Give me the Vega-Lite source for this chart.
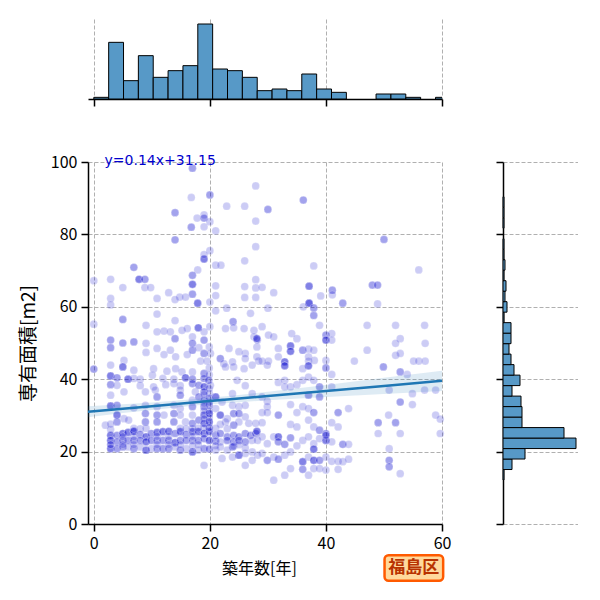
{
  "$schema": "https://vega.github.io/schema/vega-lite/v6.json",
  "description": "Jointplot: building age vs floor area, Fukushima ward.",
  "padding": {"left": 19, "top": 19, "right": 0, "bottom": 0},
  "bounds": "flush",
  "spacing": 63,
  "datasets": {
    "histx": [
      {"b0": 0, "b1": 2.56, "n": 1},
      {"b0": 2.56, "b1": 5.12, "n": 34},
      {"b0": 5.12, "b1": 7.68, "n": 11},
      {"b0": 7.68, "b1": 10.24, "n": 26},
      {"b0": 10.24, "b1": 12.8, "n": 13},
      {"b0": 12.8, "b1": 15.36, "n": 17},
      {"b0": 15.36, "b1": 17.92, "n": 20},
      {"b0": 17.92, "b1": 20.48, "n": 45},
      {"b0": 20.48, "b1": 23.04, "n": 18},
      {"b0": 23.04, "b1": 25.6, "n": 17},
      {"b0": 25.6, "b1": 28.16, "n": 13},
      {"b0": 28.16, "b1": 30.72, "n": 5},
      {"b0": 30.72, "b1": 33.28, "n": 6},
      {"b0": 33.28, "b1": 35.84, "n": 5},
      {"b0": 35.84, "b1": 38.4, "n": 15},
      {"b0": 38.4, "b1": 40.96, "n": 6},
      {"b0": 40.96, "b1": 43.52, "n": 4},
      {"b0": 48.64, "b1": 51.2, "n": 3},
      {"b0": 51.2, "b1": 53.76, "n": 3},
      {"b0": 53.76, "b1": 56.32, "n": 1},
      {"b0": 58.88, "b1": 61.44, "n": 1}
    ],
    "histy": [
      {"b0": 12.15, "b1": 15.05, "n": 1},
      {"b0": 15.05, "b1": 17.95, "n": 9},
      {"b0": 17.95, "b1": 20.84, "n": 22},
      {"b0": 20.84, "b1": 23.74, "n": 73},
      {"b0": 23.74, "b1": 26.64, "n": 61},
      {"b0": 26.64, "b1": 29.54, "n": 19},
      {"b0": 29.54, "b1": 32.44, "n": 19},
      {"b0": 32.44, "b1": 35.33, "n": 18},
      {"b0": 35.33, "b1": 38.23, "n": 9},
      {"b0": 38.23, "b1": 41.13, "n": 17},
      {"b0": 41.13, "b1": 44.03, "n": 11},
      {"b0": 44.03, "b1": 46.93, "n": 8},
      {"b0": 46.93, "b1": 49.82, "n": 6},
      {"b0": 49.82, "b1": 52.72, "n": 8},
      {"b0": 52.72, "b1": 55.62, "n": 8},
      {"b0": 55.62, "b1": 58.52, "n": 1},
      {"b0": 58.52, "b1": 61.42, "n": 4},
      {"b0": 61.42, "b1": 64.31, "n": 2},
      {"b0": 64.31, "b1": 67.21, "n": 3},
      {"b0": 67.21, "b1": 70.11, "n": 1},
      {"b0": 70.11, "b1": 73.01, "n": 2},
      {"b0": 73.01, "b1": 75.9, "n": 1},
      {"b0": 75.9, "b1": 78.8, "n": 1},
      {"b0": 81.7, "b1": 84.6, "n": 1},
      {"b0": 84.6, "b1": 87.49, "n": 1},
      {"b0": 87.49, "b1": 90.39, "n": 1}
    ],
    "fit": [
      {"x": -1, "y": 31.01, "lo": 29.51, "hi": 32.51},
      {"x": 5, "y": 31.85, "lo": 30.63, "hi": 33.07},
      {"x": 10, "y": 32.55, "lo": 31.52, "hi": 33.58},
      {"x": 18, "y": 33.67, "lo": 32.77, "hi": 34.57},
      {"x": 25, "y": 34.65, "lo": 33.64, "hi": 35.66},
      {"x": 30, "y": 35.35, "lo": 34.17, "hi": 36.53},
      {"x": 40, "y": 36.75, "lo": 35.09, "hi": 38.41},
      {"x": 50, "y": 38.15, "lo": 35.93, "hi": 40.37},
      {"x": 60, "y": 39.55, "lo": 36.75, "hi": 42.35}
    ],
    "eq": [{"t": "y=0.14x+31.15", "x": 1.85, "y": 99.2}],
    "ward": [{"t": "福島区", "x": 55.15, "y": -12.2, "x1": 50.1, "x2": 60.2, "y1": -8.6, "y2": -15.7}],
    "pts": [
      {"x":17,"y":98.3},{"x":17,"y":98.3},{"x":20,"y":90.9},{"x":20,"y":90.9},{"x":14,"y":86},{"x":14,"y":86},
      {"x":16.8,"y":90.2},{"x":27.9,"y":93.4},{"x":22.9,"y":87.8},{"x":26,"y":87.8},{"x":27.9,"y":83.7},
      {"x":19,"y":85.4},{"x":19,"y":84.5},{"x":19,"y":84.5},{"x":17.8,"y":84.5},{"x":16.8,"y":82},{"x":16.8,"y":82},
      {"x":19,"y":82.1},{"x":20,"y":83.5},{"x":21,"y":81},{"x":14,"y":78.5},{"x":14,"y":78.5},{"x":20,"y":75.5},
      {"x":19,"y":73.2},{"x":19,"y":73.2},{"x":19,"y":73.2},{"x":19,"y":74.4},{"x":6.9,"y":70.9},{"x":6.9,"y":70.9},
      {"x":17.9,"y":70.2},{"x":17,"y":68.7},{"x":17,"y":68.7},{"x":17,"y":66.2},{"x":17,"y":66.2},{"x":17,"y":66.2},
      {"x":17,"y":63.5},{"x":17,"y":63.5},{"x":21,"y":71.5},{"x":21.9,"y":71.5},{"x":26,"y":72.7},{"x":27.9,"y":76.6},
      {"x":0,"y":67.2},{"x":2.9,"y":67.6},{"x":7.8,"y":67.6},{"x":7.8,"y":67.6},{"x":7.8,"y":67.6},{"x":8.8,"y":67.6},
      {"x":8.8,"y":67.6},{"x":5,"y":65.3},{"x":8.8,"y":65.3},{"x":9.8,"y":65.3},{"x":12.9,"y":63.9},{"x":10.9,"y":62.3},
      {"x":2.9,"y":62.3},{"x":2.9,"y":60.5},{"x":14.8,"y":62.7},{"x":15.8,"y":62.7},{"x":17.9,"y":61},{"x":17.9,"y":61},
      {"x":17.9,"y":61},{"x":14,"y":62},{"x":21,"y":65.8},{"x":21,"y":63.1},{"x":20,"y":61.3},{"x":22.9,"y":59.6},
      {"x":26,"y":65.6},{"x":26,"y":62.6},{"x":27.9,"y":67.5},{"x":27.9,"y":65.2},{"x":27.9,"y":62.6},{"x":10.9,"y":58},
      {"x":21,"y":58.9},{"x":27,"y":58.2},{"x":5,"y":56.5},{"x":5,"y":56.5},{"x":14,"y":56.2},{"x":0,"y":55.2},
      {"x":24,"y":55.9},{"x":24,"y":55.9},
      {"x":36.1,"y":89.5},{"x":36.1,"y":89.5},{"x":30,"y":86.9},{"x":30,"y":86.9},{"x":50,"y":78.6},{"x":50,"y":78.6},
      {"x":37.9,"y":71.3},{"x":56,"y":70.2},{"x":37.1,"y":65.7},{"x":37.1,"y":65.7},{"x":37.1,"y":65.7},
      {"x":41.1,"y":64.6},{"x":41.1,"y":64.6},{"x":41.1,"y":63.3},{"x":48,"y":66},{"x":48,"y":66},{"x":48.9,"y":66},
      {"x":48.9,"y":66},{"x":39.1,"y":63},{"x":31,"y":63.9},{"x":29,"y":65.4},{"x":37.1,"y":61},{"x":37.1,"y":61},
      {"x":37.1,"y":61},{"x":37.1,"y":61},{"x":37.9,"y":59.7},{"x":37.9,"y":59.7},{"x":37.9,"y":57.6},{"x":37.9,"y":57.6},
      {"x":36.1,"y":60},{"x":42.9,"y":61},{"x":42.9,"y":61},{"x":48.9,"y":60.8},{"x":30,"y":59.6},
      {"x":9,"y":54.9},{"x":10.9,"y":53.1},{"x":12.1,"y":53.3},{"x":13.2,"y":53.1},{"x":15.2,"y":53.5},{"x":16.1,"y":54},
      {"x":18,"y":54.2},{"x":18,"y":54.2},{"x":18,"y":54.2},{"x":19,"y":53.1},{"x":20,"y":54.5},{"x":22.7,"y":54},
      {"x":24.1,"y":54.2},{"x":25.9,"y":54},{"x":27.6,"y":53.5},
      {"x":2.9,"y":50.8},{"x":2.9,"y":50.8},{"x":5,"y":50},{"x":5,"y":50},{"x":6.9,"y":50.3},{"x":6.9,"y":50.3},
      {"x":9,"y":49.9},{"x":14,"y":51.2},{"x":14,"y":51.2},{"x":17,"y":51.7},{"x":17,"y":49.9},{"x":17,"y":49.9},
      {"x":19,"y":50.8},{"x":19,"y":50.8},{"x":19.9,"y":48.9},{"x":27.6,"y":51.7},{"x":28.2,"y":50.8},
      {"x":2.9,"y":48.7},{"x":2.9,"y":48.7},{"x":9,"y":47.4},{"x":10.9,"y":48.5},{"x":12.1,"y":46.8},{"x":13.2,"y":48},
      {"x":14.1,"y":46.2},{"x":16.1,"y":46.8},{"x":17,"y":48},{"x":17,"y":48},{"x":18.1,"y":48.7},{"x":19,"y":47.1},
      {"x":19,"y":47.1},{"x":20.1,"y":47.1},{"x":23.3,"y":48.5},{"x":25,"y":47.6},{"x":26.1,"y":47.1},
      {"x":5.2,"y":45.2},{"x":18.4,"y":45},{"x":19.5,"y":45},{"x":21.8,"y":45.7},{"x":21.8,"y":45.7},{"x":22.4,"y":44.3},
      {"x":23.9,"y":44.8},{"x":26.1,"y":45.7},{"x":28.4,"y":45},
      {"x":0,"y":42.8},{"x":0,"y":42.8},{"x":2.9,"y":43.9},{"x":5,"y":43.4},{"x":5,"y":43.4},{"x":5,"y":43.4},
      {"x":6.9,"y":42.5},{"x":10.3,"y":42.9},{"x":12.6,"y":42.2},{"x":14.1,"y":42.9},{"x":15.2,"y":42},{"x":17,"y":42},
      {"x":19,"y":41.6},{"x":19,"y":41.6},{"x":22.7,"y":43.4},{"x":24.1,"y":43.4},{"x":25.9,"y":42.9},{"x":27.3,"y":43.9},
      {"x":2.9,"y":40.9},{"x":2.9,"y":40.9},{"x":2.9,"y":40.9},{"x":4,"y":40.4},{"x":4,"y":40.4},{"x":5.9,"y":40},
      {"x":5.9,"y":40},{"x":5.9,"y":40},{"x":6.9,"y":40.2},{"x":8,"y":40},{"x":10.1,"y":41.1},{"x":11.9,"y":40.2},
      {"x":13.8,"y":40},{"x":15.8,"y":40.4},{"x":15.8,"y":40.4},{"x":15.8,"y":40.4},{"x":17,"y":40},{"x":17,"y":40},
      {"x":19,"y":40.2},{"x":19,"y":40.2},{"x":19.8,"y":39.7},{"x":19.8,"y":39.7},{"x":24.7,"y":39.7},
      {"x":2.9,"y":38.5},{"x":2.9,"y":38.5},{"x":4,"y":38.3},{"x":8,"y":38.2},{"x":10.3,"y":37.9},{"x":12.4,"y":38.5},
      {"x":13.8,"y":38.8},{"x":14.9,"y":38.2},{"x":17,"y":38.8},{"x":17,"y":38.8},{"x":18.1,"y":38.3},{"x":18.1,"y":38.3},
      {"x":19,"y":37.9},{"x":19,"y":37.9},{"x":19,"y":37.9},{"x":20.1,"y":38.3},{"x":26.1,"y":38.2},
      {"x":5.2,"y":36.5},{"x":8.9,"y":36.5},{"x":10.6,"y":37},{"x":14.9,"y":37},{"x":17.5,"y":36.5},{"x":19,"y":36.5},
      {"x":19,"y":36.5},{"x":23.9,"y":36},{"x":27.3,"y":36},
      {"x":2.9,"y":35.6},{"x":10.9,"y":35.1},{"x":10.9,"y":35.1},{"x":14.9,"y":35.6},{"x":14.9,"y":35.6},{"x":17,"y":34.2},
      {"x":18.1,"y":35.1},{"x":18.1,"y":35.1},{"x":19,"y":34.2},{"x":19,"y":34.2},{"x":19.9,"y":34.7},{"x":19.9,"y":34.7},
      {"x":21,"y":35.1},{"x":21,"y":35.1},{"x":21,"y":35.1},{"x":22.1,"y":33.7},
      {"x":2.9,"y":32.6},{"x":2.9,"y":32.6},{"x":2.9,"y":32.6},{"x":4,"y":32.8},{"x":4,"y":32.8},{"x":6.9,"y":32.1},
      {"x":8.9,"y":32.8},{"x":10.9,"y":32.4},{"x":13.8,"y":32.8},{"x":14.9,"y":31.9},{"x":17,"y":32.4},{"x":17,"y":32.4},
      {"x":19,"y":32.4},{"x":19,"y":32.4},{"x":19.9,"y":32.8},{"x":19.9,"y":32.8},{"x":21,"y":31.9},{"x":23.9,"y":32.8},
      {"x":25,"y":32.4},{"x":26.1,"y":32.8},
      {"x":4,"y":30.1},{"x":4,"y":30.1},{"x":4,"y":30.1},{"x":5.2,"y":29.1},{"x":8.9,"y":30.5},{"x":8.9,"y":30.5},
      {"x":10.9,"y":30.1},{"x":10.9,"y":30.1},{"x":12.1,"y":30.1},{"x":13.8,"y":30.5},{"x":13.8,"y":30.5},{"x":14.9,"y":30.1},
      {"x":17,"y":30.1},{"x":19,"y":30.1},{"x":19,"y":30.1},{"x":19,"y":30.1},{"x":19.9,"y":30.5},{"x":19.9,"y":30.5},
      {"x":19.9,"y":30.5},{"x":21.8,"y":30.1},{"x":21.8,"y":30.1},{"x":21.8,"y":30.1},{"x":23,"y":29.1},{"x":24.1,"y":30.5},
      {"x":24.1,"y":30.5},{"x":25,"y":30.5},{"x":25,"y":30.5},{"x":26.1,"y":29.6},
      {"x":2,"y":27.3},{"x":4,"y":28.2},{"x":4,"y":28.2},{"x":6,"y":28.7},{"x":8.9,"y":28.2},{"x":8.9,"y":28.2},
      {"x":10.9,"y":28.2},{"x":10.9,"y":28.2},{"x":13.8,"y":28.2},{"x":13.8,"y":28.2},{"x":15.8,"y":28.2},{"x":17,"y":27.8},
      {"x":17,"y":27.8},{"x":18.1,"y":28.7},{"x":18.1,"y":28.7},{"x":19,"y":27.8},{"x":19,"y":27.8},{"x":19,"y":27.8},
      {"x":19.9,"y":28.2},{"x":19.9,"y":28.2},{"x":19.9,"y":28.2},{"x":22.7,"y":28.2},{"x":24.1,"y":27.3},{"x":24.1,"y":27.3},
      {"x":25,"y":28.2},{"x":26.7,"y":27.8},{"x":27.9,"y":27.8},
      {"x":2.9,"y":24.5},{"x":2.9,"y":24.5},{"x":2.9,"y":24.5},{"x":4,"y":24.5},{"x":4,"y":24.5},{"x":5,"y":25},
      {"x":5,"y":25},{"x":5,"y":25},{"x":5.9,"y":25.3},{"x":5.9,"y":25.3},{"x":5.9,"y":25.3},{"x":6.9,"y":25.6},
      {"x":6.9,"y":25.6},{"x":6.9,"y":25.6},{"x":6.9,"y":25.6},{"x":8,"y":24.7},{"x":8,"y":24.7},{"x":9,"y":24.1},
      {"x":9,"y":24.1},{"x":9,"y":24.1},{"x":9.9,"y":25},{"x":9.9,"y":25},{"x":10.9,"y":25.3},{"x":10.9,"y":25.3},
      {"x":10.9,"y":25.3},{"x":11.9,"y":25.5},{"x":11.9,"y":25.5},{"x":11.9,"y":25.5},{"x":12.9,"y":25.6},{"x":12.9,"y":25.6},
      {"x":12.9,"y":25.6},{"x":14,"y":25},{"x":14,"y":25},{"x":14.9,"y":25.5},{"x":14.9,"y":25.5},{"x":14.9,"y":25.5},
      {"x":15.9,"y":24.7},{"x":15.9,"y":24.7},{"x":17,"y":25.5},{"x":17,"y":25.5},{"x":17,"y":25.5},{"x":18,"y":25.5},
      {"x":18,"y":25.5},{"x":18,"y":25.5},{"x":19,"y":25},{"x":19,"y":25},{"x":19,"y":25},{"x":19.9,"y":25.5},
      {"x":19.9,"y":25.5},{"x":19.9,"y":25.5},{"x":21,"y":24.5},{"x":21,"y":24.5},{"x":21.8,"y":25},{"x":21.8,"y":25},
      {"x":23,"y":24.1},{"x":23,"y":24.1},{"x":24.1,"y":24.5},{"x":24.1,"y":24.5},{"x":25,"y":24.1},{"x":25,"y":24.1},
      {"x":26.1,"y":25},{"x":26.1,"y":25},{"x":27,"y":24.5},{"x":27,"y":24.5},{"x":27.9,"y":25},{"x":27.9,"y":25},
      {"x":2.9,"y":23.1},{"x":2.9,"y":23.1},{"x":2.9,"y":23.1},{"x":4,"y":22.7},{"x":4,"y":22.7},{"x":5,"y":23.1},
      {"x":5,"y":23.1},{"x":5.9,"y":23.1},{"x":5.9,"y":23.1},{"x":6.9,"y":23.1},{"x":6.9,"y":23.1},{"x":8,"y":23.1},
      {"x":8,"y":23.1},{"x":9,"y":22.7},{"x":9,"y":22.7},{"x":9,"y":22.7},{"x":9.9,"y":23.1},{"x":9.9,"y":23.1},
      {"x":10.9,"y":23.1},{"x":10.9,"y":23.1},{"x":11.9,"y":23.1},{"x":11.9,"y":23.1},{"x":12.9,"y":23.1},{"x":12.9,"y":23.1},
      {"x":14,"y":22.5},{"x":14,"y":22.5},{"x":14,"y":22.5},{"x":14.9,"y":23.1},{"x":14.9,"y":23.1},{"x":15.9,"y":23.1},
      {"x":15.9,"y":23.1},{"x":17,"y":23.1},{"x":17,"y":23.1},{"x":18,"y":23.1},{"x":18,"y":23.1},{"x":19,"y":23.6},
      {"x":19,"y":23.6},{"x":19.9,"y":23.1},{"x":19.9,"y":23.1},{"x":19.9,"y":23.1},{"x":21,"y":22.9},{"x":21,"y":22.9},
      {"x":21.8,"y":22.7},{"x":23,"y":23.1},{"x":23,"y":23.1},{"x":24.1,"y":22.7},{"x":24.1,"y":22.7},{"x":25,"y":23.1},
      {"x":25,"y":23.1},{"x":26.1,"y":22.7},{"x":26.1,"y":22.7},{"x":27.3,"y":23.1},{"x":28.2,"y":23.1},
      {"x":2.9,"y":20.8},{"x":2.9,"y":20.8},{"x":2.9,"y":20.8},{"x":4,"y":20.8},{"x":4,"y":20.8},{"x":5,"y":21.3},
      {"x":5,"y":21.3},{"x":5.9,"y":21.3},{"x":6.9,"y":20.8},{"x":6.9,"y":20.8},{"x":8,"y":21.3},{"x":9,"y":20.4},
      {"x":9,"y":20.4},{"x":9,"y":20.4},{"x":9.9,"y":20.8},{"x":10.9,"y":20.8},{"x":10.9,"y":20.8},{"x":11.9,"y":20.8},
      {"x":11.9,"y":20.8},{"x":12.9,"y":20.8},{"x":12.9,"y":20.8},{"x":14,"y":21.3},{"x":14.9,"y":20.4},{"x":14.9,"y":20.4},
      {"x":15.9,"y":20.8},{"x":17,"y":19.9},{"x":17,"y":19.9},{"x":17,"y":19.9},{"x":18,"y":20.4},{"x":19,"y":20.8},
      {"x":19,"y":20.8},{"x":19.9,"y":20.7},{"x":19.9,"y":20.7},{"x":21,"y":20.4},{"x":21.8,"y":21.3},{"x":23,"y":20.4},
      {"x":23.9,"y":21.3},{"x":23.9,"y":21.3},{"x":25,"y":19},{"x":25,"y":19},{"x":25,"y":19},{"x":26.1,"y":19.5},
      {"x":27.3,"y":19.9},{"x":28.2,"y":19},
      {"x":19,"y":16.2},{"x":22.1,"y":18.1},{"x":23.9,"y":18.5},{"x":26.1,"y":16.2},{"x":27.3,"y":17.6},
      {"x":19.9,"y":26.6},{"x":19.9,"y":26.6},{"x":19.9,"y":29.3},{"x":19.9,"y":31.2},{"x":19.9,"y":33.6},{"x":19.9,"y":36.1},
      {"x":19.9,"y":37.4},{"x":19.9,"y":41.2},{"x":19.9,"y":43.1},{"x":19,"y":26.5},{"x":19,"y":29},{"x":19,"y":31.3},
      {"x":19,"y":33.3},{"x":19,"y":35.8},{"x":2.9,"y":21.9},{"x":2.9,"y":21.9},{"x":2.9,"y":26.1},{"x":2.9,"y":27.6},
      {"x":5,"y":21.9},{"x":5,"y":24.1},{"x":6.9,"y":21.9},{"x":6.9,"y":24.1},{"x":6.9,"y":26.4},{"x":10.9,"y":21.9},
      {"x":10.9,"y":24.2},{"x":12.9,"y":21.9},{"x":12.9,"y":24.2},{"x":14.9,"y":21.9},{"x":14.9,"y":26.4},{"x":17,"y":21.6},
      {"x":17,"y":24.2},{"x":17,"y":26.4},{"x":8,"y":26.3},{"x":9,"y":26.4},{"x":21,"y":26.4},{"x":21.8,"y":27.5},
      {"x":23,"y":26.3},{"x":24.1,"y":21.5},{"x":25,"y":21.9},{"x":26.1,"y":21},{"x":18,"y":21.9},{"x":18,"y":26.5},
      {"x":21,"y":21.6},{"x":15.9,"y":26.3},
      {"x":29,"y":54.5},{"x":28.1,"y":51.2},{"x":28.1,"y":51.2},{"x":28.1,"y":51.2},{"x":30.1,"y":52.2},{"x":31,"y":51.7},
      {"x":34.1,"y":52.6},{"x":35,"y":51.2},{"x":38.9,"y":54.9},{"x":40,"y":52.2},{"x":40,"y":52.2},{"x":40,"y":50.8},
      {"x":40,"y":50.8},{"x":40,"y":50.8},{"x":41,"y":52.6},{"x":41,"y":50.8},{"x":47.1,"y":54.9},{"x":52,"y":54.9},
      {"x":57,"y":54.9},{"x":52.8,"y":51.2},{"x":52,"y":49.9},{"x":57.1,"y":49.9},{"x":47.1,"y":48},{"x":44.9,"y":45},
      {"x":28.1,"y":48.9},{"x":28.1,"y":46.2},{"x":31.8,"y":48.5},{"x":31.8,"y":46.2},{"x":33.9,"y":49.2},{"x":33.9,"y":49.2},
      {"x":33.9,"y":49.2},{"x":33.9,"y":47.7},{"x":33.9,"y":47.7},{"x":33.9,"y":47.7},{"x":36,"y":48},{"x":36,"y":48},
      {"x":37,"y":48.3},{"x":37.9,"y":48},{"x":37,"y":46.2},{"x":32.9,"y":44.8},{"x":32.9,"y":44.8},{"x":32.9,"y":44.8},
      {"x":32.9,"y":43.7},{"x":32.9,"y":43.7},{"x":32.9,"y":43.7},{"x":30.1,"y":45},{"x":29,"y":45},{"x":29.9,"y":43.9},
      {"x":37,"y":45},{"x":37,"y":43.7},{"x":37,"y":43.7},{"x":37,"y":43.7},{"x":38,"y":45.2},{"x":36,"y":42.9},
      {"x":40,"y":45.2},{"x":40,"y":43.1},{"x":40,"y":43.1},{"x":49.9,"y":43.4},{"x":49.9,"y":43.4},{"x":52,"y":46.6},
      {"x":52.8,"y":47.1},{"x":55.1,"y":45},{"x":56,"y":45},{"x":57.1,"y":45},{"x":52.8,"y":42},{"x":52.8,"y":42},
      {"x":54,"y":41.3},
      {"x":31.8,"y":39.1},{"x":32.9,"y":39.7},{"x":33.9,"y":37.9},{"x":35,"y":38.5},{"x":36,"y":39.7},{"x":37,"y":40.6},
      {"x":37.9,"y":39.7},{"x":38.9,"y":37.9},{"x":38.9,"y":37.9},{"x":41,"y":41.3},{"x":41,"y":37.9},{"x":32.9,"y":37.9},
      {"x":50.9,"y":37},{"x":54.9,"y":36},{"x":57,"y":37},{"x":58.9,"y":37},
      {"x":29,"y":35.1},{"x":29.9,"y":33.9},{"x":29.9,"y":32.4},{"x":37,"y":35.6},{"x":37,"y":35.6},{"x":38.9,"y":35.1},
      {"x":38.9,"y":35.1},{"x":33.9,"y":33},{"x":29,"y":30.8},{"x":29.9,"y":30.8},{"x":31.8,"y":30.1},{"x":31.8,"y":30.1},
      {"x":35,"y":30.8},{"x":36,"y":32.4},{"x":37,"y":31.9},{"x":37.9,"y":30.8},{"x":37.9,"y":30.8},{"x":42.1,"y":30.8},
      {"x":42.1,"y":30.8},{"x":43.9,"y":31.9},{"x":52.8,"y":33.7},{"x":52.8,"y":33.7},{"x":54.9,"y":33},{"x":50.8,"y":30.1},
      {"x":58.9,"y":30.1},
      {"x":29,"y":28},{"x":33.9,"y":27.5},{"x":35,"y":26.8},{"x":37,"y":28.7},{"x":37.9,"y":26.8},{"x":38.9,"y":25.9},
      {"x":38.9,"y":25.9},{"x":40,"y":25},{"x":40,"y":25},{"x":41,"y":28},{"x":42.1,"y":26.8},{"x":49,"y":28},
      {"x":49,"y":28},{"x":49,"y":25},{"x":52,"y":28},{"x":52,"y":28},{"x":52.8,"y":25},{"x":59.7,"y":29},{"x":59.7,"y":25},
      {"x":28.1,"y":25.6},{"x":28.1,"y":25.6},{"x":28.1,"y":25.6},{"x":29,"y":24.1},{"x":29.9,"y":22.2},{"x":31,"y":24.1},
      {"x":31.8,"y":24.1},{"x":31.8,"y":24.1},{"x":31.8,"y":24.1},{"x":31.8,"y":22.7},{"x":31.8,"y":22.7},{"x":32.9,"y":22},
      {"x":32.9,"y":22},{"x":33.9,"y":23.8},{"x":33.9,"y":23.8},{"x":35,"y":21.6},{"x":36,"y":23.1},{"x":37,"y":24.1},
      {"x":37.9,"y":22.2},{"x":38.9,"y":23.6},{"x":40,"y":23.1},{"x":40,"y":23.1},{"x":40,"y":23.1},{"x":40,"y":24.5},
      {"x":40,"y":24.5},{"x":41,"y":22.7},{"x":42.9,"y":22},{"x":42.9,"y":22},{"x":43.9,"y":22},
      {"x":29,"y":19.5},{"x":29.9,"y":17.6},{"x":29.9,"y":17.6},{"x":31,"y":18.5},{"x":31.8,"y":17.9},{"x":31.8,"y":17.9},
      {"x":32.9,"y":19},{"x":33.9,"y":19.9},{"x":36,"y":17.2},{"x":36,"y":17.2},{"x":36,"y":17.2},{"x":36,"y":15.1},
      {"x":36,"y":15.1},{"x":37,"y":18.5},{"x":37.9,"y":20.7},{"x":37.9,"y":20.7},{"x":37.9,"y":20.7},{"x":37.9,"y":17.6},
      {"x":37.9,"y":17.6},{"x":37.9,"y":17.6},{"x":38.9,"y":17.6},{"x":38.9,"y":17.6},{"x":40,"y":18.5},{"x":41,"y":17.3},
      {"x":42.1,"y":17.3},{"x":42.9,"y":17.2},{"x":43.9,"y":17.9},{"x":50.9,"y":20.8},{"x":50.9,"y":17.6},{"x":50.9,"y":17.6},
      {"x":50.9,"y":15.8},{"x":50.9,"y":15.8},
      {"x":31,"y":12.1},{"x":32.9,"y":13.5},{"x":33.9,"y":15.3},{"x":37,"y":13.5},{"x":37.9,"y":15.3},{"x":38.9,"y":15.3},
      {"x":40,"y":14.9},{"x":42.1,"y":15.1},{"x":52.8,"y":13.9}
    ]
  },
  "vconcat": [
    {
      "width": 354,
      "height": 80,
      "data": {"name": "histx"},
      "mark": {"type": "bar", "fill": "#5799c7", "stroke": "black", "strokeWidth": 1, "clip": true},
      "encoding": {
        "x": {"field": "b0", "type": "quantitative", "scale": {"domain": [-1, 60], "nice": false, "zero": false},
              "axis": {"values": [0, 20, 40, 60], "labels": false, "title": null, "grid": true}},
        "x2": {"field": "b1"},
        "y": {"field": "n", "type": "quantitative", "scale": {"domain": [0, 48], "nice": false}, "axis": null},
        "y2": {"datum": 0}
      }
    },
    {
      "bounds": "flush",
      "spacing": 61,
      "hconcat": [
        {
          "width": 354,
          "height": 362,
          "layer": [
            {
              "data": {"name": "pts"},
              "mark": {"type": "point", "filled": true, "fill": "#0000cd", "fillOpacity": 0.2, "stroke": "white", "strokeOpacity": 0.2, "strokeWidth": 1, "size": 60},
              "encoding": {
                "x": {"field": "x", "type": "quantitative", "scale": {"domain": [-1, 60], "nice": false, "zero": false},
                      "axis": {"values": [0, 20, 40, 60], "grid": true, "title": "築年数[年]", "labelFlush": false, "titlePadding": 9, "titleX": 171}},
                "y": {"field": "y", "type": "quantitative", "scale": {"domain": [0, 100], "nice": false},
                      "axis": {"values": [0, 20, 40, 60, 80, 100], "grid": true, "title": "専有面積[m2]", "labelFlush": false, "titlePadding": 12, "titleFontSize": 19}}
              }
            },
            {
              "data": {"name": "fit"},
              "mark": {"type": "area", "color": "#1f77b4", "opacity": 0.15},
              "encoding": {
                "x": {"field": "x", "type": "quantitative", "scale": {"domain": [-1, 60], "nice": false, "zero": false},
                      "axis": {"values": [0, 20, 40, 60], "grid": true, "title": "築年数[年]", "labelFlush": false, "titlePadding": 9, "titleX": 171}},
                "y": {"field": "lo", "type": "quantitative", "scale": {"domain": [0, 100], "nice": false},
                      "axis": {"values": [0, 20, 40, 60, 80, 100], "grid": true, "title": "専有面積[m2]", "labelFlush": false, "titlePadding": 12, "titleFontSize": 19}},
                "y2": {"field": "hi"}
              }
            },
            {
              "data": {"name": "fit"},
              "mark": {"type": "line", "color": "#1f77b4", "strokeWidth": 2.5},
              "encoding": {
                "x": {"field": "x", "type": "quantitative", "scale": {"domain": [-1, 60], "nice": false, "zero": false},
                      "axis": {"values": [0, 20, 40, 60], "grid": true, "title": "築年数[年]", "labelFlush": false, "titlePadding": 9, "titleX": 171}},
                "y": {"field": "y", "type": "quantitative", "scale": {"domain": [0, 100], "nice": false},
                      "axis": {"values": [0, 20, 40, 60, 80, 100], "grid": true, "title": "専有面積[m2]", "labelFlush": false, "titlePadding": 12, "titleFontSize": 19}}
              }
            },
            {
              "data": {"name": "eq"},
              "mark": {"type": "text", "font": "DejaVu Sans", "fontSize": 14, "color": "#0000cd", "align": "left", "baseline": "alphabetic"},
              "encoding": {
                "x": {"field": "x", "type": "quantitative", "scale": {"domain": [-1, 60], "nice": false, "zero": false},
                      "axis": {"values": [0, 20, 40, 60], "grid": true, "title": "築年数[年]", "labelFlush": false, "titlePadding": 9, "titleX": 171}},
                "y": {"field": "y", "type": "quantitative", "scale": {"domain": [0, 100], "nice": false},
                      "axis": {"values": [0, 20, 40, 60, 80, 100], "grid": true, "title": "専有面積[m2]", "labelFlush": false, "titlePadding": 12, "titleFontSize": 19}},
                "text": {"field": "t"}
              }
            },
            {
              "data": {"name": "ward"},
              "mark": {"type": "rect", "fill": "#ffd99c", "stroke": "#ff5a00", "strokeWidth": 2.5, "cornerRadius": 4},
              "encoding": {
                "x": {"field": "x1", "type": "quantitative", "scale": {"domain": [-1, 60], "nice": false, "zero": false},
                      "axis": {"values": [0, 20, 40, 60], "grid": true, "title": "築年数[年]", "labelFlush": false, "titlePadding": 9, "titleX": 171}},
                "x2": {"field": "x2"},
                "y": {"field": "y1", "type": "quantitative", "scale": {"domain": [0, 100], "nice": false},
                      "axis": {"values": [0, 20, 40, 60, 80, 100], "grid": true, "title": "専有面積[m2]", "labelFlush": false, "titlePadding": 12, "titleFontSize": 19}},
                "y2": {"field": "y2"}
              }
            },
            {
              "data": {"name": "ward"},
              "mark": {"type": "text", "font": "Noto Sans CJK JP", "fontSize": 17, "fontWeight": "bold", "color": "#b83200", "align": "center", "baseline": "middle"},
              "encoding": {
                "x": {"field": "x", "type": "quantitative", "scale": {"domain": [-1, 60], "nice": false, "zero": false},
                      "axis": {"values": [0, 20, 40, 60], "grid": true, "title": "築年数[年]", "labelFlush": false, "titlePadding": 9, "titleX": 171}},
                "y": {"field": "y", "type": "quantitative", "scale": {"domain": [0, 100], "nice": false},
                      "axis": {"values": [0, 20, 40, 60, 80, 100], "grid": true, "title": "専有面積[m2]", "labelFlush": false, "titlePadding": 12, "titleFontSize": 19}},
                "text": {"field": "t"}
              }
            }
          ]
        },
        {
          "width": 75,
          "height": 362,
          "data": {"name": "histy"},
          "mark": {"type": "bar", "fill": "#5799c7", "stroke": "black", "strokeWidth": 1},
          "encoding": {
            "y": {"field": "b0", "type": "quantitative", "scale": {"domain": [0, 100], "nice": false},
                  "axis": {"values": [0, 20, 40, 60, 80, 100], "labels": false, "title": null, "grid": true}},
            "y2": {"field": "b1"},
            "x": {"field": "n", "type": "quantitative", "scale": {"domain": [0, 75], "nice": false}, "axis": null},
            "x2": {"datum": 0}
          }
        }
      ]
    }
  ],
  "config": {
    "view": {"stroke": null},
    "axis": {
      "domainColor": "black",
      "domainWidth": 1.5,
      "tickColor": "black",
      "tickWidth": 1.5,
      "tickSize": 7,
      "gridColor": "#b0b0b0",
      "gridDash": [4, 2],
      "gridWidth": 1,
      "labelFont": "Noto Sans CJK JP",
      "labelFontSize": 16,
      "labelColor": "black",
      "labelPadding": 4,
      "titleFont": "Noto Sans CJK JP",
      "titleFontSize": 16,
      "titleFontWeight": "normal",
      "titleColor": "black"
    }
  }
}
